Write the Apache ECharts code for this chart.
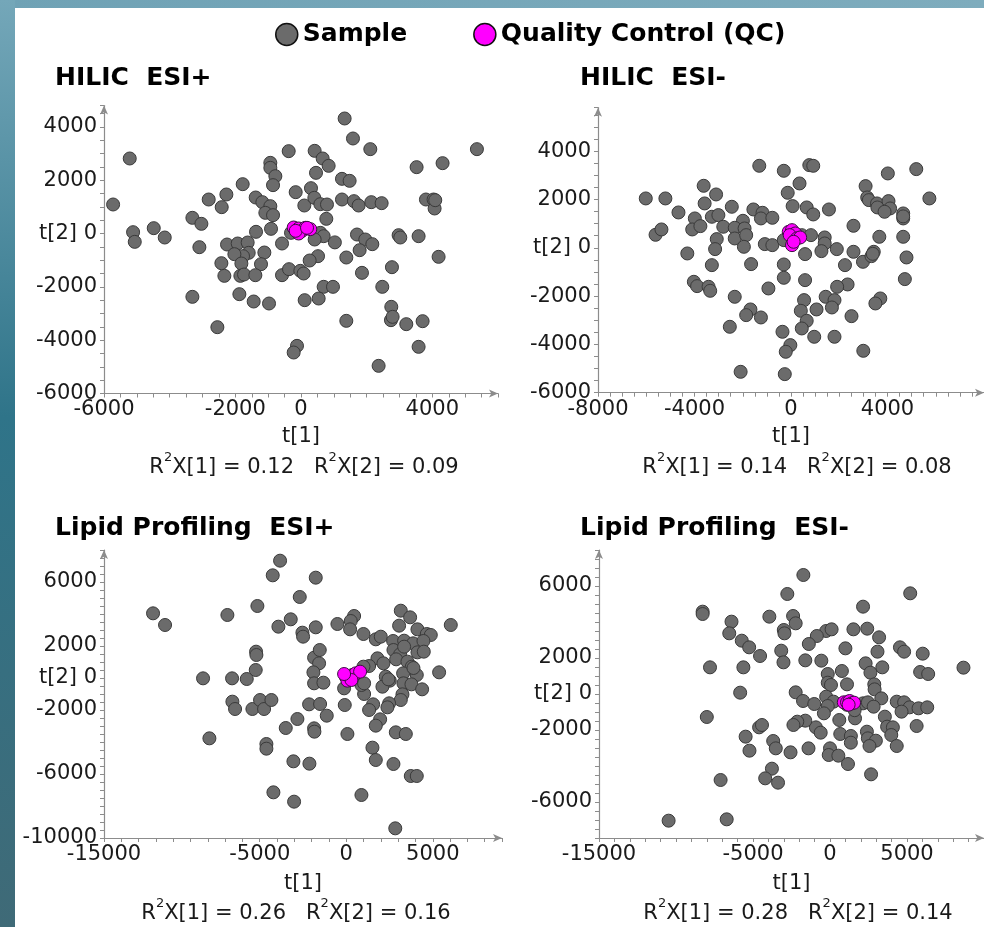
<!DOCTYPE html>
<html>
<head>
<meta charset="utf-8">
<title>PCA score plots</title>
<script src="https://cdn.jsdelivr.net/npm/echarts@6/dist/echarts.min.js"></script>
<style>
  html, body { margin: 0; padding: 0; background: #fff; }
  #main { width: 984px; height: 927px; }
</style>
</head>
<body>
<div id="main"></div>
<script>
// ---- data (t[1], t[2]) ----
var hilicPosSample = [
  [1329,4313],[1583,3563],[2111,3163],[5358,3163],[-375,3088],[416,3100],[-5216,2813],[660,2813],
  [842,2538],[3521,2488],[4312,2638],[-934,2650],[-934,2463],[-781,2150],[457,2275],[1248,2050],
  [1481,1975],[-852,1813],[-1776,1850],[-162,1550],[304,1700],[-2273,1463],[-2811,1275],[-2415,988],
  [-1380,1350],[-1177,1175],[-934,1025],[-1086,775],[-852,688],[101,1050],[406,1338],[589,1100],
  [791,1088],[1248,1275],[1613,1213],[1755,1050],[2141,1175],[2456,1138],[3805,1275],[4038,1275],
  [4069,938],[-5723,1088],[771,550],[-3308,588],[-3034,363],[-4485,200],[-5114,50],[-5063,-313],
  [-4150,-150],[-3095,-513],[-1370,63],[-913,175],[-2253,-413],[-1928,-375],[-1624,-338],[-578,-375],
  [-304,25],[589,25],[690,-100],[416,-225],[1705,-38],[1958,-225],[2172,-400],[2973,-63],
  [3024,-150],[3582,-100],[1786,-625],[4191,-875],[1380,-900],[518,-850],[264,-1013],[-1116,-713],
  [-1593,-725],[-1766,-850],[-2029,-775],[-1816,-1125],[-2425,-1113],[-1218,-1150],[-2334,-1588],[-1847,-1588],
  [-1735,-1538],[-1390,-1563],[-578,-1563],[-365,-1338],[-20,-1400],[81,-1500],[1857,-1475],[2770,-1263],
  [690,-2000],[974,-2000],[2476,-2000],[-3308,-2375],[-1877,-2275],[-1441,-2550],[-974,-2625],[112,-2500],
  [538,-2438],[2750,-2750],[2740,-3250],[2791,-3125],[1380,-3275],[3207,-3400],[3704,-3288],[-2547,-3513],
  [-122,-4213],[-223,-4463],[3582,-4250],[2364,-4963],[4089,1250],[1031,-333]
];
var hilicPosQC = [[-223,225],[-71,188],[30,100],[132,213],[284,163],[-71,0],[-162,100],[183,213]];

var hilicNegSample = [
  [-1315,3395],[-298,3188],[759,3423],[922,3395],[4014,3078],[5193,3257],[353,2664],[-136,2277],
  [-3620,2567],[-3105,2208],[-6020,2043],[-5207,2043],[3092,2553],[3159,2084],[3227,1974],[3566,1836],
  [4041,1932],[3580,1670],[4108,1629],[3878,1491],[4651,1422],[4651,1215],[5736,2043],[-3580,1836],
  [-4664,1463],[-2454,1698],[-1559,1587],[-1180,1449],[-1247,1215],[-773,1242],[68,1725],[651,1670],
  [922,1380],[1573,1587],[-3986,1215],[-3281,1284],[-3010,1353],[-1993,1118],[-2807,870],[-2332,828],
  [-1925,801],[-4095,759],[-3756,897],[-5614,538],[-5370,759],[-2332,386],[-1858,524],[-3078,359],
  [-3146,-55],[-1953,41],[-4298,-235],[-3281,-718],[-1085,152],[-773,110],[-298,317],[447,524],
  [827,524],[1397,428],[1397,179],[583,-262],[1261,-138],[1898,-55],[2590,-166],[2237,-718],
  [2983,-580],[3336,-345],[3431,-166],[3661,455],[2590,911],[4651,455],[4787,-400],[4719,-1297],
  [-298,-690],[-298,-1242],[583,-1339],[2346,-1518],[1912,-1615],[-1654,-676],[-936,-1684],[-4027,-1408],
  [-3891,-1587],[-3417,-1615],[-3349,-1781],[-2332,-2029],[1437,-2029],[1803,-2167],[1695,-2471],[542,-2167],
  [1058,-2553],[407,-2609],[-1681,-2553],[-1858,-2788],[-1247,-2885],[3702,-2098],[3498,-2305],[2508,-2830],
  [-2536,-3271],[651,-3023],[447,-3340],[-353,-3478],[-27,-4030],[-217,-4306],[963,-3685],[1803,-3685],
  [2997,-4265],[-2088,-5135],[-258,-5231],[3390,-250],[4650,1300]
];
var hilicNegQC = [[-95,662],[41,731],[176,593],[-54,524],[244,386],[380,428],[41,110],[108,248]];

var lipidPosSample = [
  [-3825,7333],[-4249,6417],[-1763,6271],[-2688,5063],[-5135,4500],[-11166,4042],[-10472,3313],[-6869,3938],
  [-3208,3667],[-3921,3208],[-1763,3167],[-2534,2833],[-2495,2583],[-511,3375],[453,3875],[260,3563],
  [222,3042],[993,2750],[1706,2417],[1995,2583],[3151,4208],[3690,3792],[3054,3271],[4114,3042],
  [4653,2750],[4884,2688],[6040,3313],[2708,2313],[3344,2333],[3864,2167],[4460,2313],[2727,1750],
  [3112,1479],[4114,1604],[2882,1167],[3536,1021],[3787,708],[4075,188],[3285,292],[1802,1229],
  [2148,917],[1320,750],[993,708],[2283,83],[2514,-167],[2090,-542],[3304,-333],[3767,-396],
  [4383,-708],[3247,-1021],[5366,354],[3151,-1375],[2476,-1583],[2379,-1833],[1552,-1646],[1320,-2000],
  [1031,-1000],[877,-438],[-125,-646],[-87,-1688],[1957,-2583],[1706,-2979],[2863,-3396],[3441,-3500],
  [67,-3500],[1513,-4354],[1706,-5125],[2727,-5375],[3729,-6125],[4075,-6125],[877,-7313],[2832,-9396],
  [-1859,1271],[-1532,1750],[-1570,917],[-1898,354],[-1859,-333],[-1320,-292],[-2148,-1646],[-1513,-1625],
  [-1127,-2354],[-2823,-2563],[-1859,-3146],[-1840,-3354],[-3497,-3125],[-4615,-4125],[-4615,-4417],[-3054,-5208],
  [-2129,-5354],[-4210,-7146],[-3015,-7729],[-5212,1646],[-5193,1438],[-5232,500],[-8276,-21],[-6599,-21],
  [-5751,-63],[-6580,-1479],[-6426,-1938],[-5424,-1938],[-4981,-1375],[-4750,-1938],[-4326,-1375],[-7909,-3771],
  [2437,-83],[3883,625],[3344,1958],[4480,1646],[1031,-333]
];
var lipidPosQC = [[-29,83],[164,-21],[356,188],[549,292],[800,396],[67,-167],[299,-125],[-125,250]];

var lipidNegSample = [
  [-1729,6611],[-2771,5556],[5208,5593],[2146,4852],[-8271,4574],[-8271,4444],[-6396,4019],[-3938,4296],
  [-2396,4333],[-2229,3926],[-6542,3370],[-3000,3556],[-2958,3370],[-250,3500],[104,3593],[1521,3593],
  [2417,3630],[3188,3148],[-854,3222],[-1375,2778],[-5729,2963],[-5250,2593],[-3167,2407],[1000,2537],
  [4542,2593],[4813,2352],[3083,2352],[6021,2241],[-4542,2111],[-3021,1759],[-1604,1870],[-563,1852],
  [2313,1704],[3396,1481],[2625,1185],[8667,1463],[5854,1222],[6375,1111],[-7792,1481],[-5625,1481],
  [-146,1111],[771,1278],[-146,630],[63,500],[1104,537],[2875,537],[2896,259],[3333,-241],
  [-5833,74],[-2229,93],[-1750,-389],[-1021,-556],[-250,-148],[229,-426],[-146,-667],[-396,-1074],
  [2146,-519],[2458,-463],[2833,-704],[4333,-426],[4813,-463],[5167,-741],[4646,-981],[5750,-796],
  [6313,-741],[604,-1444],[1625,-1352],[3563,-1259],[3708,-1815],[4083,-1852],[3979,-2278],[5625,-1778],
  [4333,-2889],[2396,-2093],[2458,-2463],[2979,-2593],[2563,-2889],[667,-2222],[1354,-2333],[1354,-2704],
  [0,-3019],[-83,-3389],[542,-3426],[1167,-3889],[2667,-4463],[-917,-1852],[-604,-2148],[-1396,-3019],
  [-1604,-1481],[-2125,-1537],[-2375,-1722],[-2563,-3241],[-3688,-2611],[-3521,-3019],[-4604,-1852],[-4417,-1722],
  [-5479,-2370],[-5229,-3148],[-8000,-1278],[-3771,-4148],[-4208,-4685],[-3375,-4926],[-7104,-4778],[-6708,-6963],
  [-10479,-7037],[1104,-600],[1600,-900]
];
var lipidNegQC = [[896,-463],[1104,-463],[1271,-389],[1417,-519],[1563,-481],[1208,-593]];

// ---- panel text ----
var panelTitles = ['HILIC  ESI+', 'HILIC  ESI-', 'Lipid Profiling  ESI+', 'Lipid Profiling  ESI-'];
var r2x1 = ['0.12', '0.14', '0.26', '0.28'];
var r2x2 = ['0.09', '0.08', '0.16', '0.14'];

// ---- axis ranges and tick labels ----
var xMin = [-6000, -8000, -14000, -15000];
var xMax = [6000, 8000, 9000, 10000];
var yMin = [-6000, -6000, -10000, -8000];
var yMax = [4800, 5800, 8000, 8000];
var xTickStep = [500, 500, 1000, 1000];
var yTickStep = [500, 500, 500, 500];
var xTickValues = [[-6000,-2000,0,4000], [-8000,-4000,0,4000], [-14000,-5000,0,5000], [-15000,-5000,0,5000]];
var xTickLabels = [['-6000','-2000','0','4000'], ['-8000','-4000','0','4000'], ['-15000','-5000','0','5000'], ['-15000','-5000','0','5000']];
var yTickValues = [[-6000,-4000,-2000,0,2000,4000], [-6000,-4000,-2000,0,2000,4000],
                   [-10000,-6000,-2000,0,2000,6000], [-6000,-2000,0,2000,6000]];
var yTickLabels = [['-6000','-4000','-2000','t[2] 0','2000','4000'], ['-6000','-4000','-2000','t[2] 0','2000','4000'],
                   ['-10000','-6000','-2000','t[2] 0','2000','6000'], ['-6000','-2000','t[2] 0','2000','6000']];

var sampleSets = [hilicPosSample, hilicNegSample, lipidPosSample, lipidNegSample];
var qcSets = [hilicPosQC, hilicNegQC, lipidPosQC, lipidNegQC];

// layout of the four plot areas
var gridBoxes = [
  {left: 104, top: 105.5, width: 394, height: 288},
  {left: 598, top: 107.7, width: 393, height: 285},
  {left: 104, top: 550, width: 398, height: 288},
  {left: 599, top: 550, width: 400, height: 288}
];
var titlePos = [[55, 66], [580, 66], [55, 516], [580, 516]];
var r2Pos = [[304, 451], [797, 451], [296, 897], [798, 897]];

var FONT = 'DejaVu Sans';
var axisColor = '#8c8c8c';
var textColor = '#1a1a1a';

function lookup(values, labels) {
  return function (v) {
    var i = values.indexOf(v);
    return i < 0 ? '' : labels[i];
  };
}

var grids = [], xAxes = [], yAxes = [], series = [], titles = [];

for (var i = 0; i < 4; i++) {
  grids.push(Object.assign({containLabel: false}, gridBoxes[i]));

  xAxes.push({
    type: 'value', gridIndex: i, min: xMin[i], max: xMax[i], interval: xTickStep[i],
    name: 't[1]', nameLocation: 'middle', nameGap: i < 2 ? 33 : 35,
    nameTextStyle: {fontFamily: FONT, fontSize: 21, color: textColor},
    axisLine: {show: true, onZero: false, symbol: ['none', 'arrow'], symbolSize: [6, 9],
      lineStyle: {color: axisColor, width: 1.2}},
    axisTick: {show: true, length: 4, lineStyle: {color: axisColor}},
    axisLabel: {customValues: xTickValues[i], formatter: lookup(xTickValues[i], xTickLabels[i]),
      fontFamily: FONT, fontSize: 21, color: textColor, margin: 6},
    splitLine: {show: false}
  });

  yAxes.push({
    type: 'value', gridIndex: i, min: yMin[i], max: yMax[i], interval: yTickStep[i],
    axisLine: {show: true, onZero: false, symbol: ['none', 'arrow'], symbolSize: [6, 9],
      lineStyle: {color: axisColor, width: 1.2}},
    axisTick: {show: true, length: 4, lineStyle: {color: axisColor}},
    axisLabel: {customValues: yTickValues[i], formatter: lookup(yTickValues[i], yTickLabels[i]),
      fontFamily: FONT, fontSize: 21, color: textColor, margin: 7},
    splitLine: {show: false}
  });

  series.push({
    name: 'Sample', type: 'scatter', xAxisIndex: i, yAxisIndex: i,
    data: sampleSets[i], symbolSize: 13, z: 2,
    itemStyle: {color: '#6b6b6b', borderColor: '#3a3a3a', borderWidth: 1, opacity: 1},
    emphasis: {disabled: true}
  });
  series.push({
    name: 'Quality Control (QC)', type: 'scatter', xAxisIndex: i, yAxisIndex: i,
    data: qcSets[i], symbolSize: 13, z: 3,
    itemStyle: {color: '#ff00ff', borderColor: '#3a1040', borderWidth: 1, opacity: 1},
    emphasis: {disabled: true}
  });

  titles.push({
    text: panelTitles[i], left: titlePos[i][0], top: titlePos[i][1], padding: 0,
    textStyle: {fontFamily: FONT, fontWeight: 'bold', fontSize: 25, color: '#000'}
  });
  titles.push({
    text: '{n|R}{s|2}{n|X[1] = ' + r2x1[i] + '   R}{s|2}{n|X[2] = ' + r2x2[i] + '}',
    left: r2Pos[i][0], top: r2Pos[i][1], textAlign: 'center', padding: 0,
    textStyle: {
      fontWeight: 'normal',
      rich: {
        n: {fontFamily: FONT, fontWeight: 'normal', fontSize: 21, color: textColor, lineHeight: 27, verticalAlign: 'bottom'},
        s: {fontFamily: FONT, fontWeight: 'normal', fontSize: 13, color: textColor, lineHeight: 27, verticalAlign: 'top'}
      }
    }
  });
}

var chart = echarts.init(document.getElementById('main'), null, {renderer: 'canvas'});
chart.setOption({
  backgroundColor: '#ffffff',
  animation: false,
  title: titles,
  legend: {
    data: ['Sample', 'Quality Control (QC)'],
    left: 270, top: 17, itemWidth: 22, itemHeight: 22, itemGap: 66, icon: 'circle',
    selectedMode: false,
    itemStyle: {borderColor: '#111', borderWidth: 1.5},
    textStyle: {fontFamily: FONT, fontWeight: 'bold', fontSize: 25, color: '#000'}
  },
  graphic: [
    {type: 'rect', shape: {x: 0, y: 0, width: 984, height: 8}, silent: true,
      style: {fill: new echarts.graphic.LinearGradient(0, 0, 1, 0, [
        {offset: 0, color: '#6fa2b5'}, {offset: 1, color: '#7eacbd'}])}},
    {type: 'rect', shape: {x: 0, y: 0, width: 15, height: 927}, silent: true,
      style: {fill: new echarts.graphic.LinearGradient(0, 0, 0, 1, [
        {offset: 0, color: '#74a7b9'}, {offset: 0.45, color: '#2f7489'}, {offset: 1, color: '#3f6a77'}])}}
  ],
  grid: grids,
  xAxis: xAxes,
  yAxis: yAxes,
  series: series
});
</script>
</body>
</html>
